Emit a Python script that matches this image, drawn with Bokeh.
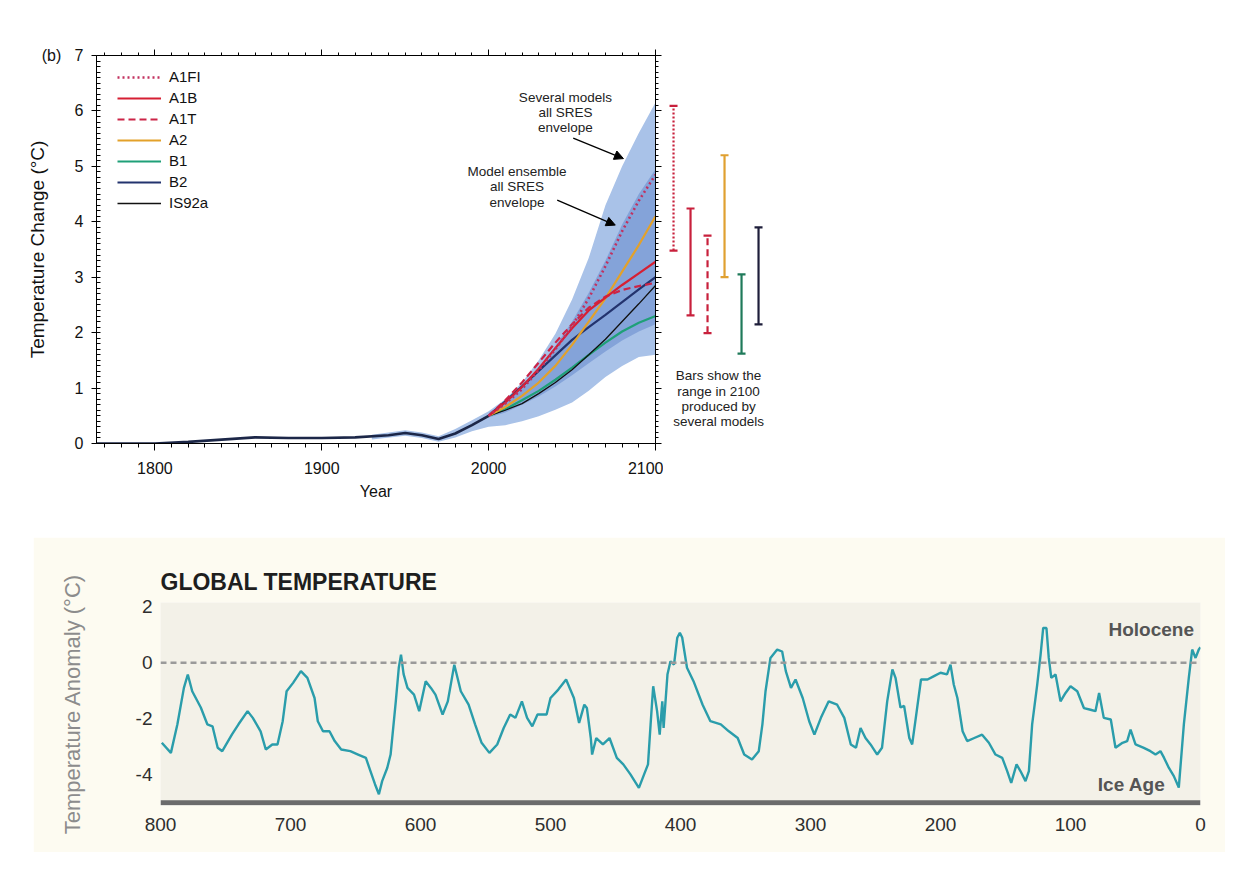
from bokeh.plotting import figure
from bokeh.models import (Range1d, LinearAxis, SingleIntervalTicker, FixedTicker, CustomJSTickFormatter,
                          Legend, LegendItem, Label, Arrow, NormalHead, Span, Spacer)
from bokeh.layouts import row, column
from bokeh.embed import file_html
from bokeh.resources import INLINE
from bokeh.core.properties import value

FONT = "Liberation Sans"

# ---------------- top chart data (IPCC-style projection) ----------------
hist_year = [1765, 1780, 1800, 1820, 1840, 1860, 1880, 1900, 1920, 1940, 1950, 1960, 1970, 1980, 1990, 2000]
hist_temp = [0.0, 0.0, 0.0, 0.03, 0.07, 0.11, 0.10, 0.10, 0.11, 0.15, 0.19, 0.15, 0.08, 0.18, 0.33, 0.50]

outer_year = [1930, 1950, 1960, 1970, 1980, 1990, 2000, 2010, 2020, 2030, 2040, 2050, 2060, 2070, 2080, 2090, 2100]
outer_low = [0.07, 0.14, 0.10, 0.03, 0.11, 0.22, 0.30, 0.33, 0.40, 0.49, 0.61, 0.74, 0.95, 1.20, 1.40, 1.56, 1.60]
outer_high = [0.16, 0.24, 0.20, 0.13, 0.26, 0.42, 0.58, 0.80, 1.10, 1.50, 1.98, 2.60, 3.35, 4.30, 5.00, 5.60, 6.15]

proj_year = [2000, 2010, 2020, 2030, 2040, 2050, 2060, 2070, 2080, 2090, 2100]
inner_low = [0.47, 0.56, 0.70, 0.85, 1.03, 1.23, 1.45, 1.66, 1.86, 2.02, 2.15]
inner_high = [0.55, 0.77, 1.03, 1.38, 1.76, 2.20, 2.72, 3.30, 3.95, 4.50, 4.95]

a1fi = [0.50, 0.72, 0.98, 1.32, 1.70, 2.12, 2.62, 3.20, 3.83, 4.38, 4.85]
a1b = [0.50, 0.74, 1.02, 1.35, 1.72, 2.08, 2.40, 2.63, 2.86, 3.07, 3.28]
a1t = [0.50, 0.78, 1.10, 1.46, 1.82, 2.15, 2.45, 2.65, 2.77, 2.84, 2.90]
a2 = [0.50, 0.66, 0.86, 1.10, 1.40, 1.78, 2.20, 2.62, 3.10, 3.58, 4.10]
b1 = [0.50, 0.62, 0.78, 0.95, 1.15, 1.37, 1.60, 1.82, 2.02, 2.18, 2.30]
b2 = [0.50, 0.76, 1.03, 1.31, 1.59, 1.87, 2.10, 2.32, 2.55, 2.78, 3.00]
is92a = [0.50, 0.60, 0.72, 0.90, 1.10, 1.33, 1.60, 1.88, 2.20, 2.52, 2.85]

# ranges in 2100 from several models
bar_names = ["A1FI", "A1B", "A1T", "A2", "B1", "B2"]
bar_low = [3.48, 2.31, 1.99, 3.00, 1.62, 2.15]
bar_high = [6.09, 4.24, 3.75, 5.20, 3.05, 3.90]

# ---------------- bottom chart data (800 kyr global temperature) ----------------
ka = [799, 792, 787, 782, 779, 775.6, 769, 764, 760, 756, 752.5, 745, 740, 733, 729, 723, 719, 714, 710, 706,
      703, 698, 692, 687, 681.5, 679, 675, 670, 666, 661, 654, 648, 642, 638.5, 635, 632, 629.5, 625.6, 623, 619,
      616.7, 615, 613, 610, 605, 601, 596, 592, 588.5, 583, 579, 574, 569, 563, 558, 553, 547, 541, 536, 531,
      527, 522, 518, 514, 510, 503, 500, 494, 488, 482, 478, 474, 472, 469, 468, 464.8, 459.7, 454.6, 449, 444,
      438.5, 432, 428, 425, 423, 421, 418, 416, 414, 413, 410, 407.7, 405, 402.5, 400.5, 398.7, 395, 390, 383, 377,
      369, 362.8, 356, 351, 345, 339.8, 337, 334.6, 330.8, 325.6, 321.8, 319, 315, 311.5, 306, 301, 297, 292, 286,
      279.5, 274, 269, 265, 261.5, 257.7, 253.8, 248.7, 245, 241, 237, 234.6, 230.8, 228, 224, 221.8, 219, 215,
      210, 205, 200, 195, 192.3, 189.8, 187, 183, 179.5, 174, 168, 162.8, 157.7, 152.5, 148.7, 145.6, 141.5, 138.5,
      134.6, 132, 129.5, 125.6, 123, 121, 118.5, 116.7, 114.8, 111.5, 107.7, 103.8, 100, 94.8, 89.7, 84.6, 80.8,
      78, 74.4, 69, 65.4, 60, 56.4, 53.8, 50, 43.6, 38.5, 34.6, 30.8, 28, 24.4, 20.5, 16.7, 12.8, 9, 6.4, 3.8, 1.3, 0]
anomaly = [-2.86, -3.22, -2.2, -0.9, -0.42, -1.02, -1.6, -2.2, -2.27, -3.04, -3.16, -2.56, -2.2, -1.73, -1.97, -2.45,
           -3.1, -2.92, -2.92, -2.09, -1.02, -0.72, -0.3, -0.54, -1.26, -2.09, -2.45, -2.45, -2.8, -3.1, -3.16, -3.28,
           -3.4, -3.87, -4.34, -4.7, -4.23, -3.76, -3.28, -1.38, -0.18, 0.29, -0.41, -0.9, -1.14, -1.73, -0.66, -0.9,
           -1.14, -1.85, -1.38, -0.07, -1.02, -1.5, -2.2, -2.86, -3.22, -2.92, -2.33, -1.85, -1.97, -1.38, -1.97,
           -2.27, -1.85, -1.85, -1.26, -0.96, -0.6, -1.26, -2.15, -1.5, -1.62, -2.69, -3.28, -2.69, -2.92, -2.69,
           -3.4, -3.63, -3.99, -4.47, -3.99, -3.63, -2.2, -0.84, -1.73, -2.57, -1.38, -2.33, -0.41, 0.05, -0.07, 0.89,
           1.07, 0.9, -0.18, -0.66, -1.5, -2.09, -2.2, -2.45, -2.69, -3.28, -3.46, -3.16, -2.2, -1.02, 0.17, 0.47,
           0.4, -0.3, -0.9, -0.6, -1.26, -2.09, -2.57, -1.97, -1.38, -1.5, -1.97, -2.92, -3.04, -2.33, -2.69, -2.92,
           -3.28, -3.04, -1.38, -0.24, -0.54, -1.6, -1.54, -2.69, -2.92, -1.97, -0.6, -0.6, -0.48, -0.36, -0.42,
           -0.07, -0.78, -1.26, -2.45, -2.8, -2.69, -2.57, -2.86, -3.28, -3.4, -3.87, -4.29, -3.63, -3.87, -4.23,
           -3.87, -2.2, -0.78, 0.29, 1.24, 1.24, 0.17, -0.54, -0.42, -1.38, -1.08, -0.84, -1.02, -1.62, -1.68,
           -1.73, -1.08, -1.97, -2.03, -3.04, -2.86, -2.8, -2.39, -2.92, -3.04, -3.16, -3.28, -3.16, -3.4, -3.75,
           -4.05, -4.46, -2.2, -0.54, 0.47, 0.17, 0.47, 0.55]
ka_ticks = [800, 700, 600, 500, 400, 300, 200, 100, 0]
anom_ticks = [2, 0, -2, -4]

blank = CustomJSTickFormatter(code="return ''")
NB = "\u00a0"

# ====================== Figure A: projection chart ======================
pA = figure(width=655, height=517, x_range=Range1d(1765, 2100), y_range=Range1d(0, 7),
            output_backend="svg", toolbar_location=None,
            min_border_left=88, min_border_right=8, min_border_top=47, min_border_bottom=82,
            background_fill_color="white", border_fill_color="white", outline_line_color=None,
            x_axis_label="Year", y_axis_label="Temperature Change (°C)")
pA.grid.visible = False

xa = pA.xaxis[0]
xa.ticker = SingleIntervalTicker(interval=100, num_minor_ticks=10)
ya = pA.yaxis[0]
ya.ticker = SingleIntervalTicker(interval=1, num_minor_ticks=10)
ya.major_label_overrides = {7: "(b)" + NB * 3 + "7"}
for ax in (xa, ya):
    ax.axis_line_color = "black"
    ax.major_tick_line_color = "black"
    ax.minor_tick_line_color = "black"
    ax.major_label_text_font = FONT
    ax.major_label_text_font_size = "16px"
    ax.major_label_text_color = "#111111"
    ax.axis_label_text_font = FONT
    ax.axis_label_text_font_style = "normal"
    ax.axis_label_text_color = "#111111"
xa.axis_label_text_font_size = "16px"
ya.axis_label_text_font_size = "19px"
xa.major_tick_out = 7
xa.major_tick_in = 0
xa.minor_tick_out = 4
xa.minor_tick_in = 0
xa.major_label_standoff = 11
xa.axis_label_standoff = 6
ya.major_tick_out = 5
ya.major_tick_in = 0
ya.minor_tick_out = 0
ya.minor_tick_in = 4
ya.major_label_standoff = 8
ya.axis_label_standoff = -9

top_ax = LinearAxis(ticker=SingleIntervalTicker(interval=100, num_minor_ticks=10), formatter=blank,
                    major_tick_out=6, major_tick_in=0, minor_tick_out=3, minor_tick_in=0,
                    major_label_standoff=0, axis_line_color="black")
pA.add_layout(top_ax, "above")
right_ax = LinearAxis(ticker=SingleIntervalTicker(interval=1, num_minor_ticks=10), formatter=blank,
                      major_tick_out=6, major_tick_in=0, minor_tick_out=3, minor_tick_in=0,
                      major_label_standoff=0, axis_line_color="black")
pA.add_layout(right_ax, "right")

pA.varea(x=outer_year, y1=outer_low, y2=outer_high, fill_color="#a9c2e8", fill_alpha=1.0)
pA.varea(x=proj_year, y1=inner_low, y2=inner_high, fill_color="#84a3d9", fill_alpha=1.0)

pA.line(hist_year, hist_temp, line_color="#1c2748", line_width=2.6)
r_b1 = pA.line(proj_year, b1, line_color="#1fa078", line_width=2.2)
r_is = pA.line(proj_year, is92a, line_color="#111111", line_width=1.3)
r_b2 = pA.line(proj_year, b2, line_color="#23336e", line_width=2.2)
r_a2 = pA.line(proj_year, a2, line_color="#e3a12a", line_width=2.2)
r_a1t = pA.line(proj_year, a1t, line_color="#cc2447", line_width=2.2, line_dash="7 4")
r_a1b = pA.line(proj_year, a1b, line_color="#d61f33", line_width=2.2)
r_a1fi = pA.line(proj_year, a1fi, line_color="#c2305f", line_width=2.6, line_dash="2 3")

legend = Legend(items=[LegendItem(label="A1FI", renderers=[r_a1fi]),
                       LegendItem(label="A1B", renderers=[r_a1b]),
                       LegendItem(label="A1T", renderers=[r_a1t]),
                       LegendItem(label="A2", renderers=[r_a2]),
                       LegendItem(label="B1", renderers=[r_b1]),
                       LegendItem(label="B2", renderers=[r_b2]),
                       LegendItem(label="IS92a", renderers=[r_is])],
                location=(21, 232), margin=0, padding=0, spacing=4,
                glyph_width=44, glyph_height=16, label_height=16, label_standoff=8,
                label_text_font=FONT, label_text_font_size="15px", label_text_color="#111111",
                background_fill_alpha=0, border_line_color=None)
pA.add_layout(legend)

ann_font = dict(text_font=value(FONT), text_font_size="13.5px", text_color="#222222",
                text_align="center", text_baseline="middle")
pA.text(x=[2046, 2046, 2046], y=[6.25, 5.98, 5.70],
        text=["Several models", "all SRES", "envelope"], **ann_font)
pA.text(x=[2017, 2017, 2017], y=[4.90, 4.63, 4.34],
        text=["Model ensemble", "all SRES", "envelope"], **ann_font)
pA.add_layout(Arrow(end=NormalHead(size=9, fill_color="black", line_color="black"),
                    x_start=2050.7, y_start=5.51, x_end=2080.8, y_end=5.14,
                    line_color="black", line_width=1.3))
pA.add_layout(Arrow(end=NormalHead(size=9, fill_color="black", line_color="black"),
                    x_start=2041.1, y_start=4.39, x_end=2075.9, y_end=3.94,
                    line_color="black", line_width=1.3))

# ====================== Figure B: 2100 range bars ======================
bar_step_px = 17.0
pB = figure(width=580, height=517, x_range=Range1d(-0.59, -0.59 + 580 / bar_step_px), y_range=pA.y_range,
            output_backend="svg", toolbar_location=None, x_axis_location=None, y_axis_location=None,
            min_border_left=0, min_border_right=0, min_border_top=47, min_border_bottom=82,
            background_fill_color="white", border_fill_color="white", outline_line_color=None)
pB.grid.visible = False
bar_colors = ["#c8203c", "#c8203c", "#c8203c", "#e0a030", "#1f7a5a", "#1e1e3a"]
bar_dashes = ["2 2", "solid", "7 4", "solid", "solid", "solid"]
for i in range(len(bar_names)):
    pB.segment(x0=[i], y0=[bar_low[i]], x1=[i], y1=[bar_high[i]], line_color=bar_colors[i],
               line_width=2.2, line_dash=bar_dashes[i])
    pB.scatter(x=[i, i], y=[bar_low[i], bar_high[i]], marker="dash", size=8,
               line_color=bar_colors[i], line_width=2.2)
pB.text(x=[2.65] * 4, y=[1.23, 0.94, 0.67, 0.40],
        text=["Bars show the", "range in 2100", "produced by", "several models"], **ann_font)

# ====================== Figure C: 800 kyr global temperature ======================
pC = figure(width=1192, height=315, x_range=Range1d(800, 0), y_range=Range1d(-5.1, 2.15),
            output_backend="svg", toolbar_location=None,
            min_border_left=127, min_border_right=25, min_border_top=65, min_border_bottom=47,
            background_fill_color="#f3f1e8", border_fill_color="#fdfbf1", outline_line_color=None,
            title="GLOBAL TEMPERATURE", y_axis_label="Temperature Anomaly (°C)")
pC.grid.visible = False
pC.title.text_font = FONT
pC.title.text_font_size = "23px"
pC.title.text_font_style = "bold"
pC.title.text_color = "#1e1e1e"
pC.title.align = "left"
pC.title.standoff = 15

cx = pC.xaxis[0]
cx.ticker = FixedTicker(ticks=ka_ticks)
cy = pC.yaxis[0]
cy.ticker = FixedTicker(ticks=anom_ticks)
cy.major_label_overrides = {t: str(t) for t in anom_ticks}
for ax in (cx, cy):
    ax.axis_line_color = None
    ax.major_tick_line_color = None
    ax.minor_tick_line_color = None
    ax.major_tick_in = 0
    ax.major_tick_out = 0
    ax.major_label_text_font = FONT
    ax.major_label_text_font_size = "19px"
    ax.major_label_text_color = "#2e2e2e"
cx.major_label_standoff = 12
cy.major_label_standoff = 8
cy.axis_label_text_font = FONT
cy.axis_label_text_font_size = "22px"
cy.axis_label_text_font_style = "normal"
cy.axis_label_text_color = "#8c8c8c"
cy.axis_label_standoff = 48

pC.add_layout(Span(location=0, dimension="width", line_color="#9a9a9a", line_dash="6 4", line_width=2.5))
pC.add_layout(Span(location=-5.0, dimension="width", line_color="#6b6b6b", line_width=5))
pC.line(ka, anomaly, line_color="#2a9dab", line_width=2.4)
pC.add_layout(Label(x=5, y=1.2, text="Holocene", text_align="right", text_baseline="middle",
                    text_font=FONT, text_font_size="19px", text_font_style="bold", text_color="#555555"))
pC.add_layout(Label(x=27, y=-4.35, text="Ice Age", text_align="right", text_baseline="middle",
                    text_font=FONT, text_font_size="19px", text_font_style="bold", text_color="#555555"))

inner = column(row(pA, pB), Spacer(height=12), row(Spacer(width=25), pC))
layout = column(Spacer(height=8), row(Spacer(width=8), inner))
open("out.html", "w").write(file_html(layout, INLINE))
